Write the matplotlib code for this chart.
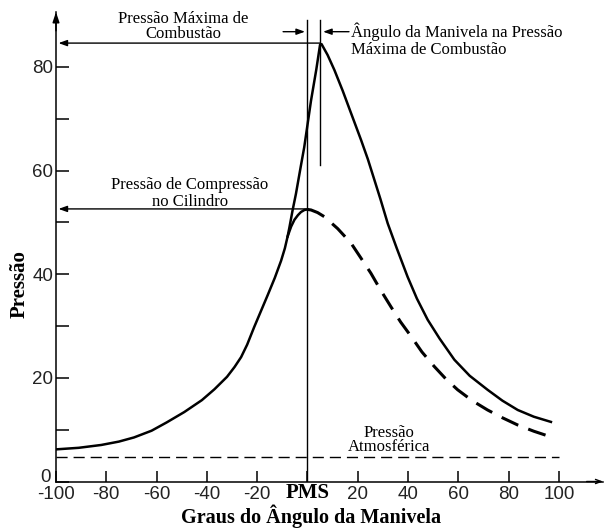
import matplotlib
matplotlib.use("Agg")
import matplotlib.pyplot as plt
import matplotlib.transforms as mtransforms

# curva de compressão (trecho comum, até o PMS)
comp_ang = [-100, -91, -82, -75, -69, -62, -56, -49, -42, -37, -32, -29, -26.4, -24,
            -21.2, -18.5, -15.8, -13, -10.5, -9, -7.9, -6.5, -5.2, -3.8, -2.6, -1.2, 0]
comp_p = [6.2, 6.5, 7.05, 7.7, 8.5, 9.8, 11.4, 13.4, 15.7, 17.8, 20.2, 22.1, 24.0, 26.4,
          29.8, 32.9, 36.0, 39.3, 42.6, 45.0, 47.3, 49.2, 50.5, 51.4, 52.0, 52.4, 52.5]

# expansão sem combustão (tracejado)
exp_ang = [0, 1.4, 4, 6.7, 12, 17.3, 21, 25.2, 29, 33.2, 37, 41.2, 45.5, 50.4, 55, 59.7,
           65.5, 71.6, 77.5, 83.6, 90, 96.8]
exp_p = [52.5, 52.4, 51.9, 51.1, 48.8, 46.0, 43.3, 40.2, 37.0, 33.7, 30.8, 28.0, 25.0,
         22.2, 19.8, 17.7, 15.6, 13.8, 12.3, 10.9, 9.7, 8.6]

# combustão
comb_ang = [-7.9, -7.2, -5.9, -4.6, -2.6, -1.3, 1.4, 3.5, 5.0, 5.6, 8, 10.7, 14, 17.3, 21.3,
            24, 26.6, 29, 31.9, 35.5, 39.8, 43.5, 47.8, 52.5, 58.4, 64.5, 71.6, 77.5,
            83.6, 90, 96.8]
comb_p = [47.3, 49.0, 52.4, 55.5, 61.0, 64.5, 73.5, 79.5, 84.3, 84.4, 82.3, 79.4, 75.4,
          71.1, 65.9, 62.2, 58.2, 54.5, 49.8, 45.0, 39.5, 35.3, 31.2, 27.6, 23.5, 20.4,
          17.7, 15.6, 13.8, 12.5, 11.5]

p_atm = 4.8
p_max = 84.6
ang_max = 5.1
p_comp = 52.6

xticks = [-100, -80, -60, -40, -20, 0, 20, 40, 60, 80, 100]
xlabels = ["-100", "-80", "-60", "-40", "-20", "PMS", "20", "40", "60", "80", "100"]
yticks = [0, 20, 40, 60, 80]

serif = "Liberation Serif"
sans = "Liberation Sans"

fig = plt.figure(figsize=(6.04, 5.28), dpi=100)
ax = fig.add_axes([56 / 604, 1 - 481.5 / 528, 547 / 604, 469.5 / 528])
ax.set_xlim(-100, 117.5)
ax.set_ylim(0, 90.6)

ax.plot(comp_ang, comp_p, color="black", lw=1.8, solid_capstyle="round")
ax.plot(comb_ang, comb_p, color="black", lw=1.8, solid_joinstyle="round")
ax.plot(exp_ang, exp_p, color="black", lw=2.2, dashes=(6, 3.5))
ax.plot([-100, 100], [p_atm, p_atm], color="black", lw=1.0, dashes=(8, 4.3))

# linhas de referência
ax.plot([0, 0], [0, 89.1], color="black", lw=1.0)
ax.plot([ang_max, ang_max], [61.1, 89.1], color="black", lw=1.0)

arrow = dict(arrowstyle="-|>,head_length=0.5,head_width=0.18", color="black", lw=1.0,
             shrinkA=0, shrinkB=0)
ax.annotate("", xy=(-99, p_max), xytext=(ang_max, p_max), arrowprops=arrow)
ax.annotate("", xy=(-99, p_comp), xytext=(0, p_comp), arrowprops=arrow)
ax.annotate("", xy=(-1.0, 86.8), xytext=(-9.7, 86.8), arrowprops=arrow)
ax.annotate("", xy=(6.2, 86.8), xytext=(16.5, 86.8), arrowprops=arrow)

ax.text(-49.5, 87.8, "Pressão Máxima de\nCombustão", family=serif, fontsize=12,
        ha="center", va="center", linespacing=0.85)
ax.text(17.3, 85.2, "Ângulo da Manivela na Pressão\nMáxima de Combustão", family=serif,
        fontsize=12, ha="left", va="center", linespacing=1.1)
ax.text(-46.7, 55.6, "Pressão de Compressão\nno Cilindro", family=serif, fontsize=12,
        ha="center", va="center", linespacing=1.1)
ax.text(32.4, 8.0, "Pressão\nAtmosférica", family=serif, fontsize=12,
        ha="center", va="center", linespacing=0.9)

# eixos
for s in ["top", "right"]:
    ax.spines[s].set_visible(False)
for s in ["left", "bottom"]:
    ax.spines[s].set_linewidth(1.1)
ax.annotate("", xy=(0, 1.0), xytext=(0, 0.96), xycoords="axes fraction",
            arrowprops=dict(arrowstyle="-|>,head_length=0.6,head_width=0.2", color="black",
                            lw=1.1, shrinkA=0, shrinkB=0))
ax.annotate("", xy=(1.0, 0), xytext=(0.97, 0), xycoords="axes fraction",
            arrowprops=dict(arrowstyle="->,head_length=0.4,head_width=0.15", color="black",
                            lw=1.0, shrinkA=0, shrinkB=0))

ax.set_xticks(xticks)
ax.set_xticklabels(xlabels)
ax.set_yticks(yticks)
ax.set_yticks([10, 30, 50, 70], minor=True)
ax.tick_params(axis="x", direction="in", length=8, width=1.1, pad=3,
               labelsize=13.5, labelcolor="#222222")
ax.tick_params(axis="y", which="both", direction="in", length=9.5, width=1.1, pad=2,
               labelsize=13.5, labelcolor="#222222")
for lab in ax.get_xticklabels() + ax.get_yticklabels():
    lab.set_family(sans)
pms = ax.get_xticklabels()[5]
pms.set_family(serif)
pms.set_fontweight("bold")
pms.set_fontsize(15)
pms.set_color("black")
pms.set_transform(pms.get_transform() + mtransforms.ScaledTranslation(0, 2 / 72, fig.dpi_scale_trans))
zero = ax.get_yticklabels()[0]
zero.set_transform(zero.get_transform() + mtransforms.ScaledTranslation(-2 / 72, 4 / 72, fig.dpi_scale_trans))

fig.text(20 / 604, 1 - 284 / 528, "Pressão", family=serif, fontweight="bold",
         fontsize=15, rotation=90, ha="center", va="center")
fig.text(311 / 604, 1 - 516 / 528, "Graus do Ângulo da Manivela", family=serif,
         fontweight="bold", fontsize=14.5, ha="center", va="center")

fig.savefig("out.png", dpi=100)
